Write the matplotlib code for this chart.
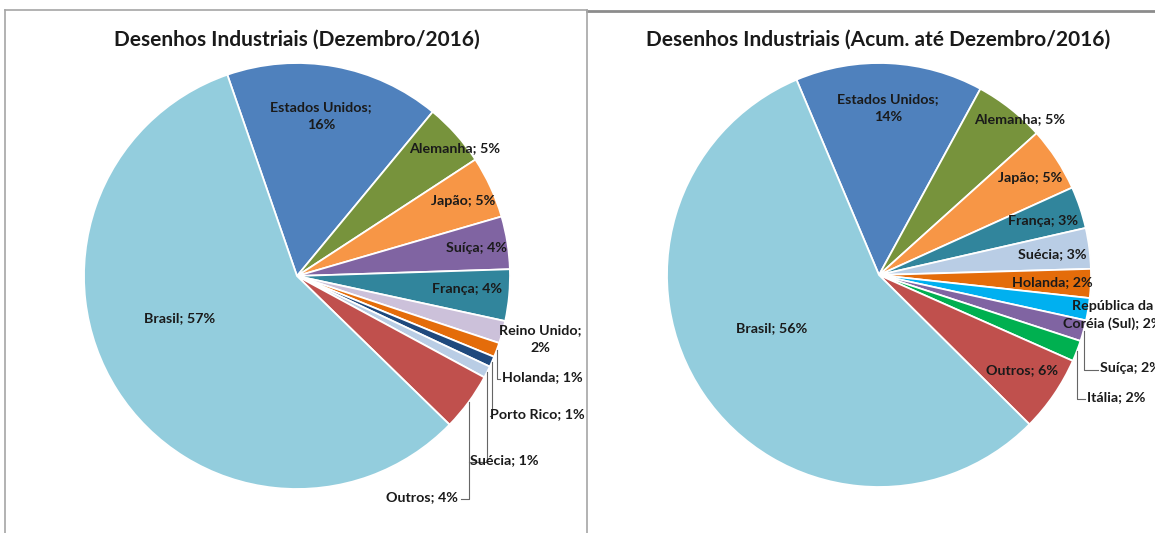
import numpy as np
import matplotlib.pyplot as plt

plt.rcParams["font.family"] = ["Lato", "DejaVu Sans"]

W, H = 1155, 533

# ============================================================
# dados
# ============================================================
mes_paises = ["Estados Unidos", "Alemanha", "Japão", "Suíça", "França", "Reino Unido",
              "Holanda", "Porto Rico", "Suécia", "Outros", "Brasil"]
mes_valores = [16.3, 4.8, 4.7, 4.0, 3.9, 1.7, 1.1, 0.8, 0.9, 4.4, 57.4]

acum_paises = ["Estados Unidos", "Alemanha", "Japão", "França", "Suécia", "Holanda",
               "República da Coréia (Sul)", "Suíça", "Itália", "Outros", "Brasil"]
acum_valores = [14.3, 5.4, 4.9, 3.2, 3.1, 2.2, 1.7, 1.6, 1.6, 5.8, 56.2]

# cores (estilo Excel)
COR = {
    "Estados Unidos": "#4F81BD", "Alemanha": "#77933C", "Japão": "#F79646",
    "Suíça": "#8064A2", "França": "#31859C", "Reino Unido": "#CCC1DA",
    "Holanda": "#E46C0A", "Porto Rico": "#1F497D", "Suécia": "#B9CDE5",
    "Outros": "#C0504D", "Brasil": "#93CDDD",
    "República da Coréia (Sul)": "#00B0F0", "Itália": "#00B050",
}

# quebras de linha nos rótulos
QUEBRA = {"Estados Unidos": "{n};\n{p}%", "Reino Unido": "{n};\n{p}%",
          "República da Coréia (Sul)": "República da\nCoréia (Sul); {p}%"}

# posição dos rótulos (pixels): x, y, alinhamento, linha de chamada
POS_MES = {
    "Estados Unidos": (321, 116, "center", None),
    "Alemanha": (455, 148, "center", None),
    "Japão": (463, 201, "center", None),
    "Suíça": (476, 248, "center", None),
    "França": (467, 289, "center", None),
    "Reino Unido": (540, 339, "center", None),
    "Holanda": (502, 377, "left", 500),
    "Porto Rico": (490, 414, "left", 490),
    "Suécia": (470, 460, "left", 469),
    "Outros": (458, 497, "right", 461),
    "Brasil": (180, 318, "center", None),
}
POS_ACUM = {
    "Estados Unidos": (888, 108, "center", None),
    "Alemanha": (1020, 119, "center", None),
    "Japão": (1030, 178, "center", None),
    "França": (1043, 221, "center", None),
    "Suécia": (1052, 254, "center", None),
    "Holanda": (1052, 282, "center", None),
    "República da Coréia (Sul)": (1113, 315, "center", None),
    "Suíça": (1100, 368, "left", 1098),
    "Itália": (1087, 397, "left", 1085),
    "Outros": (1022, 370, "center", None),
    "Brasil": (772, 328, "center", None),
}

fig = plt.figure(figsize=(W / 100, H / 100), dpi=100)
fig.patch.set_facecolor("white")


def desenha_pizza(paises, valores, cx, cy, r, inicio):
    ax = fig.add_axes([(cx - r) / W, 1 - (cy + r) / H, 2 * r / W, 2 * r / H])
    ax.pie(valores, colors=[COR[p] for p in paises], startangle=90 + inicio,
           counterclock=False, radius=1,
           wedgeprops=dict(edgecolor="white", linewidth=1.3))
    ax.set_xlim(-1, 1)
    ax.set_ylim(-1, 1)
    return ax


def rotula(ov, paises, valores, cx, cy, r, inicio, pos, titulo, tx):
    v = np.array(valores, dtype=float)
    frac = v / v.sum()
    ang = -inicio + np.cumsum(frac) * 360 - frac * 180  # horário a partir do topo
    for i, p in enumerate(paises):
        pct = int(round(frac[i] * 100))
        txt = QUEBRA.get(p, "{n}; {p}%").format(n=p, p=pct)
        x, y, ha, lx = pos[p]
        ov.text(x, y, txt, ha=ha, va="center", fontsize=10.3, fontweight="bold",
                color="#1a1a1a", linespacing=1.55)
        if lx is not None:
            a = np.deg2rad(ang[i])
            ex, ey = cx + r * np.sin(a), cy - r * np.cos(a)
            ov.plot([ex, ex, lx], [ey, y + 2, y + 2], color="#666666", lw=0.8)
    ov.text(tx, 40, titulo, ha="center", va="center", fontsize=15,
            fontweight="bold", color="#1a1a1a")


desenha_pizza(mes_paises, mes_valores, 297, 276, 213, 19.1)
desenha_pizza(acum_paises, acum_valores, 879, 275, 212, 22.9)

ov = fig.add_axes([0, 0, 1, 1])
ov.set_xlim(0, W)
ov.set_ylim(H, 0)
ov.axis("off")
ov.patch.set_alpha(0)

rotula(ov, mes_paises, mes_valores, 297, 276, 213, 19.1, POS_MES,
       "Desenhos Industriais (Dezembro/2016)", 297)
rotula(ov, acum_paises, acum_valores, 879, 275, 212, 22.9, POS_ACUM,
       "Desenhos Industriais (Acum. até Dezembro/2016)", 878)

# bordas dos painéis
ov.plot([5, 5], [10, H], color="#a6a6a6", lw=1.2)
ov.plot([5, 587], [10, 10], color="#a6a6a6", lw=1.2)
ov.plot([587, W], [10.5, 10.5], color="#8c8c8c", lw=2)
ov.plot([587, 587], [10, H], color="#a6a6a6", lw=1.2)

fig.savefig("out.png", dpi=100)
